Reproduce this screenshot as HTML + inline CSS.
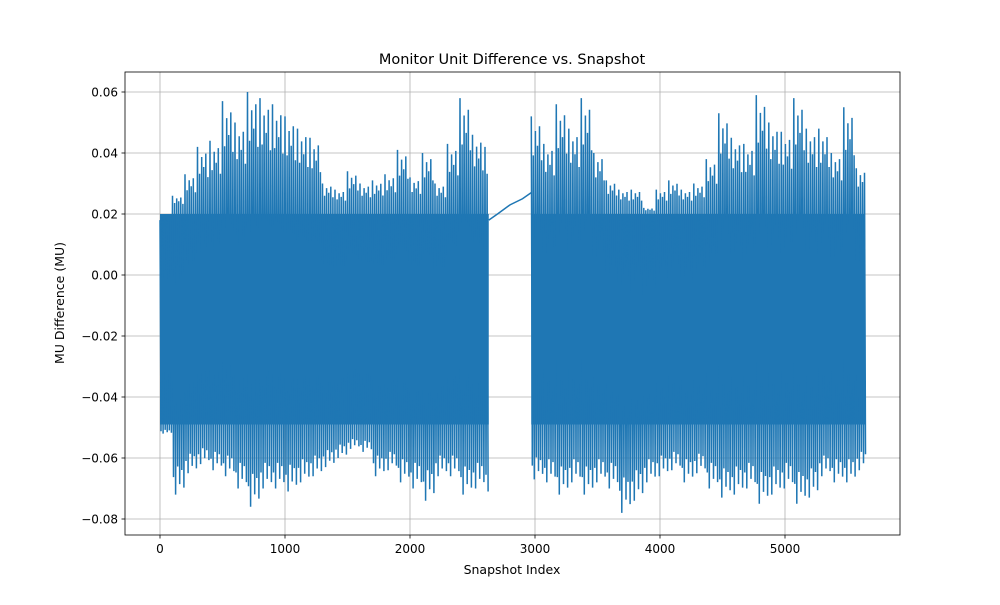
<!DOCTYPE html>
<html><head><meta charset="utf-8"><style>
body{margin:0;background:#fff;font-family:"Liberation Sans","DejaVu Sans",sans-serif;}
</style></head><body>
<svg id="chart" width="1000" height="600" xmlns="http://www.w3.org/2000/svg" font-family="DejaVu Sans, Liberation Sans, sans-serif">
<rect width="1000" height="600" fill="#fff"/>
<g id="grid"></g>
<g id="series" clip-path="url(#clip)"></g>
<defs><clipPath id="clip"><rect x="125" y="72" width="775" height="463"/></clipPath></defs>
<rect x="125" y="72" width="775" height="463" fill="none" stroke="#000" stroke-width="0.8"/>
<g id="ticks"></g>
<text x="512" y="64" text-anchor="middle" font-size="14.5">Monitor Unit Difference vs. Snapshot</text>
<text x="512" y="574" text-anchor="middle" font-size="12.5">Snapshot Index</text>
<text transform="translate(64,303) rotate(-90)" text-anchor="middle" font-size="12.5">MU Difference (MU)</text>
</svg>
<script>
const xTicks=[0,1000,2000,3000,4000,5000];
const yTicks=[0.06,0.04,0.02,0.00,-0.02,-0.04,-0.06,-0.08];
const yTickLabels=["0.06","0.04","0.02","0.00","−0.02","−0.04","−0.06","−0.08"];
const seg1Start=0;
const seg1Max=[0.018,0.026,0.033,0.042,0.044,0.057,0.050,0.060,0.058,0.056,0.052,0.048,0.045,0.030,0.028,0.034,0.030,0.031,0.033,0.041,0.032,0.040,0.030,0.043,0.058,0.046,0.042];
const seg1Min=[-0.052,-0.072,-0.065,-0.062,-0.064,-0.066,-0.070,-0.076,-0.070,-0.070,-0.071,-0.068,-0.066,-0.063,-0.060,-0.057,-0.058,-0.066,-0.064,-0.068,-0.070,-0.074,-0.066,-0.066,-0.072,-0.070,-0.071];
const seg2Start=2970;
const seg2Max=[0.052,0.043,0.056,0.048,0.058,0.040,0.031,0.028,0.028,0.022,0.028,0.031,0.028,0.030,0.038,0.053,0.045,0.043,0.059,0.050,0.047,0.058,0.048,0.048,0.040,0.055,0.035];
const seg2Min=[-0.067,-0.068,-0.072,-0.068,-0.072,-0.068,-0.070,-0.078,-0.074,-0.068,-0.066,-0.064,-0.068,-0.065,-0.070,-0.073,-0.072,-0.070,-0.075,-0.072,-0.070,-0.075,-0.073,-0.066,-0.068,-0.068,-0.064];
const binSize=100;
const coreHi=0.020, coreLo=-0.049;
const gapX=[2630,2700,2800,2900,2970];
const gapY=[0.018,0.020,0.023,0.025,0.027];
const xEnd=5640;

const X=v=>160+v*0.125;
const Y=v=>275-v*3050;
const NS="http://www.w3.org/2000/svg";
function mk(t,a,p){const e=document.createElementNS(NS,t);for(const k in a)e.setAttribute(k,a[k]);p.appendChild(e);return e;}
const grid=document.getElementById('grid'),ticks=document.getElementById('ticks'),series=document.getElementById('series');
xTicks.forEach(t=>{
 const l=mk('line',{x1:X(t),x2:X(t),y1:72,y2:535,stroke:'#b0b0b0','stroke-width':0.8},grid);
 
 
 const k=mk('line',{x1:X(t),x2:X(t),y1:535,y2:538.5,stroke:'#000','stroke-width':0.8},ticks);
 
 
 const tx=mk('text',{x:X(t),y:553,'text-anchor':'middle','font-size':12},ticks);tx.textContent=t;
 
 
});
yTicks.forEach((t,i)=>{
 const l=mk('line',{x1:125,x2:900,y1:Y(t),y2:Y(t),stroke:'#b0b0b0','stroke-width':0.8},grid);
 
 
 const k=mk('line',{x1:121.5,x2:125,y1:Y(t),y2:Y(t),stroke:'#000','stroke-width':0.8},ticks);
 
 
 const tx=mk('text',{x:118,y:Y(t)+4.5,'text-anchor':'end','font-size':12},ticks);tx.textContent=yTickLabels[i];
 
 
});
const upFrac=[1,0.6,0.85,0.7,0.9,0.55];
const dnFrac=[0.75,1,0.6,0.85,0.65,0.9];
function seg(start,mx,mn,end){
 const pts=[];
 mx.forEach((v,i)=>{
  const b=start+i*binSize;
  for(let j=0;j<6;j++){
   const x=b+j*16.6;
   if(x>end) break;
   const hi=coreHi+(mx[i]-coreHi)*upFrac[j];
   const lo=coreLo+(mn[i]-coreLo)*dnFrac[j];
   pts.push(X(x).toFixed(1)+','+Y(hi).toFixed(1));
   pts.push(X(x+8).toFixed(1)+','+Y(lo).toFixed(1));
  }
 });
 const c=mk('polygon',{points:[X(start)+','+Y(coreHi),X(end)+','+Y(coreHi),X(end)+','+Y(coreLo),X(start)+','+Y(coreLo)].join(' '),fill:'#1f77b4'},series);
 
 
 const p=mk('polyline',{points:pts.join(' '),fill:'none',stroke:'#1f77b4','stroke-width':1.5},series);
 
 
}
seg(seg1Start,seg1Max,seg1Min,gapX[0]);
seg(seg2Start,seg2Max,seg2Min,xEnd);
const g=mk('polyline',{points:gapX.map((x,i)=>X(x)+','+Y(gapY[i])).join(' '),fill:'none',stroke:'#1f77b4','stroke-width':1.5},series);


</script>
</body></html>
